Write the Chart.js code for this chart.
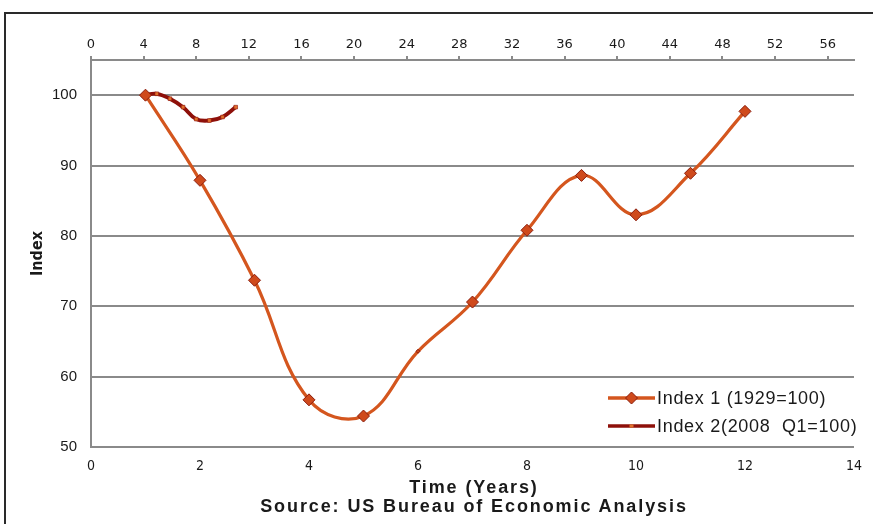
<!DOCTYPE html>
<html>
<head>
<meta charset="utf-8">
<script src="https://cdn.jsdelivr.net/npm/chart.js@4/dist/chart.umd.min.js"></script>
<style>
  html, body { margin: 0; padding: 0; background: #fff; }
  #wrap { position: relative; width: 873px; height: 524px; overflow: hidden; }
  #frame { position: absolute; left: 4px; top: 12px; width: 880px; height: 530px;
           border-top: 2px solid #2a2a2a; border-left: 2px solid #2a2a2a; box-sizing: border-box; }
  canvas { position: absolute; left: 0; top: 0; }
  .cap { position: absolute; left: 91px; width: 766px; text-align: center;
         font: bold 18px "Liberation Sans", Arial, sans-serif; color: #1a1a1a;
         letter-spacing: 1.9px; line-height: 18px; white-space: nowrap; }
</style>
</head>
<body>
<div id="wrap">
  <div id="frame"></div>
  <canvas id="c" width="873" height="524"></canvas>
  <div class="cap" style="top:478px">Time (Years)</div>
  <div class="cap" style="top:497px">Source: US Bureau of Economic Analysis</div>
</div>
<script>
// Series 1: annual index, 1929 = 100
const years1 = [1, 2, 3, 4, 5, 6, 7, 8, 9, 10, 11, 12];
const index1 = [100, 87.9, 73.7, 56.7, 54.4, 63.6, 70.6, 80.8, 88.6, 83.0, 88.9, 97.7];
const index1Radius = [6, 6, 6, 6, 6, 2, 6, 6, 6, 6, 6, 6];

// Series 2: quarterly index, 2008 Q1 = 100
const quarters2 = [4, 5, 6, 7, 8, 9, 10, 11];
const index2 = [100, 100.2, 99.5, 98.3, 96.6, 96.4, 96.9, 98.3];

// Axis ticks
const yTicks = [50, 60, 70, 80, 90, 100];
const xBottomMax = 14;
const xTopMax = 58;

const label1 = 'Index 1 (1929=100)';
const label2 = 'Index 2(2008  Q1=100)';

const gray = '#8a8a8a';
const narrow = "'Liberation Sans Narrow', 'DejaVu Sans Condensed', 'Liberation Sans', sans-serif";

// Legend drawn inside the plot, lower right
const insetLegend = {
  id: 'insetLegend',
  afterDraw(chart) {
    const ctx = chart.ctx;
    const rows = [398, 426];
    const x0 = 608, x1 = 655;
    ctx.save();
    chart.data.datasets.forEach((ds, i) => {
      const y = rows[i];
      ctx.strokeStyle = ds.borderColor;
      ctx.lineWidth = 3.5;
      ctx.beginPath(); ctx.moveTo(x0, y); ctx.lineTo(x1, y); ctx.stroke();
      const cx = (x0 + x1) / 2;
      if (i === 0) {
        ctx.fillStyle = ds.pointBackgroundColor;
        ctx.strokeStyle = ds.pointBorderColor;
        ctx.lineWidth = 1;
        const r = 6;
        ctx.beginPath();
        ctx.moveTo(cx, y - r); ctx.lineTo(cx + r, y); ctx.lineTo(cx, y + r); ctx.lineTo(cx - r, y);
        ctx.closePath(); ctx.fill(); ctx.stroke();
      } else {
        ctx.fillStyle = ds.pointBackgroundColor;
        ctx.fillRect(cx - 2, y - 1.5, 4, 3);
      }
      ctx.fillStyle = '#1a1a1a';
      ctx.font = "18px 'Liberation Sans', Arial, sans-serif";
      if ('letterSpacing' in ctx) ctx.letterSpacing = '0.7px';
      ctx.textBaseline = 'middle';
      ctx.textAlign = 'left';
      ctx.fillText(ds.label, 657, y + 1);
      if ('letterSpacing' in ctx) ctx.letterSpacing = '0px';
    });
    ctx.restore();
  }
};

new Chart(document.getElementById('c'), {
  type: 'line',
  data: {
    datasets: [
      {
        label: label1,
        data: years1.map((x, i) => ({ x, y: index1[i] })),
        xAxisID: 'x',
        yAxisID: 'y',
        borderColor: '#d4561e',
        borderWidth: 3.2,
        tension: 0.4,
        pointStyle: 'rectRot',
        pointRadius: index1Radius,
        pointBackgroundColor: '#cf4a1c',
        pointBorderColor: '#8a1c0c',
        pointBorderWidth: 1,
        order: 1
      },
      {
        label: label2,
        data: quarters2.map((x, i) => ({ x, y: index2[i] })),
        xAxisID: 'x2',
        yAxisID: 'y',
        borderColor: '#8e100a',
        borderWidth: 3.8,
        tension: 0.4,
        pointStyle: 'rect',
        pointRadius: 2.6,
        pointBackgroundColor: '#e0702c',
        pointBorderColor: '#8e100a',
        pointBorderWidth: 0.6,
        order: 2
      }
    ]
  },
  options: {
    responsive: false,
    animation: false,
    devicePixelRatio: 1,
    layout: { padding: { left: 0, right: 16, top: 0, bottom: 0 } },
    plugins: { legend: { display: false }, tooltip: { enabled: false } },
    scales: {
      x: {
        type: 'linear',
        position: 'bottom',
        min: 0,
        max: xBottomMax,
        ticks: { stepSize: 2, padding: 11, color: '#1a1a1a', font: { family: narrow, size: 14 } },
        grid: { drawOnChartArea: false, drawTicks: false },
        border: { display: true, color: gray, width: 2 },
        afterFit(s) { s.height = 77; }
      },
      x2: {
        type: 'linear',
        position: 'top',
        min: 0,
        max: xTopMax,
        afterBuildTicks(s) {
          const t = [];
          for (let v = 0; v <= 56; v += 4) t.push({ value: v });
          s.ticks = t;
        },
        ticks: { padding: 4, color: '#1a1a1a', font: { family: "'DejaVu Sans', sans-serif", size: 13 } },
        grid: { drawOnChartArea: false, drawTicks: true, tickLength: 4, color: gray, lineWidth: 2 },
        border: { display: true, color: gray, width: 2 },
        afterFit(s) { s.height = 60; }
      },
      y: {
        type: 'linear',
        position: 'left',
        min: 50,
        max: 105,
        afterBuildTicks(s) { s.ticks = yTicks.map(v => ({ value: v })); },
        ticks: { padding: 14, color: '#1a1a1a', font: { family: "'Liberation Sans', Arial, sans-serif", size: 15 } },
        grid: { color: gray, lineWidth: 2, drawTicks: false },
        border: { display: true, color: gray, width: 2 },
        title: {
          display: true,
          text: 'Index',
          color: '#1a1a1a',
          font: { family: narrow, size: 16, weight: 'bold' },
          padding: { top: 28, bottom: 0 }
        },
        afterFit(s) { s.width = 91; }
      }
    }
  },
  plugins: [insetLegend]
});
</script>
</body>
</html>
